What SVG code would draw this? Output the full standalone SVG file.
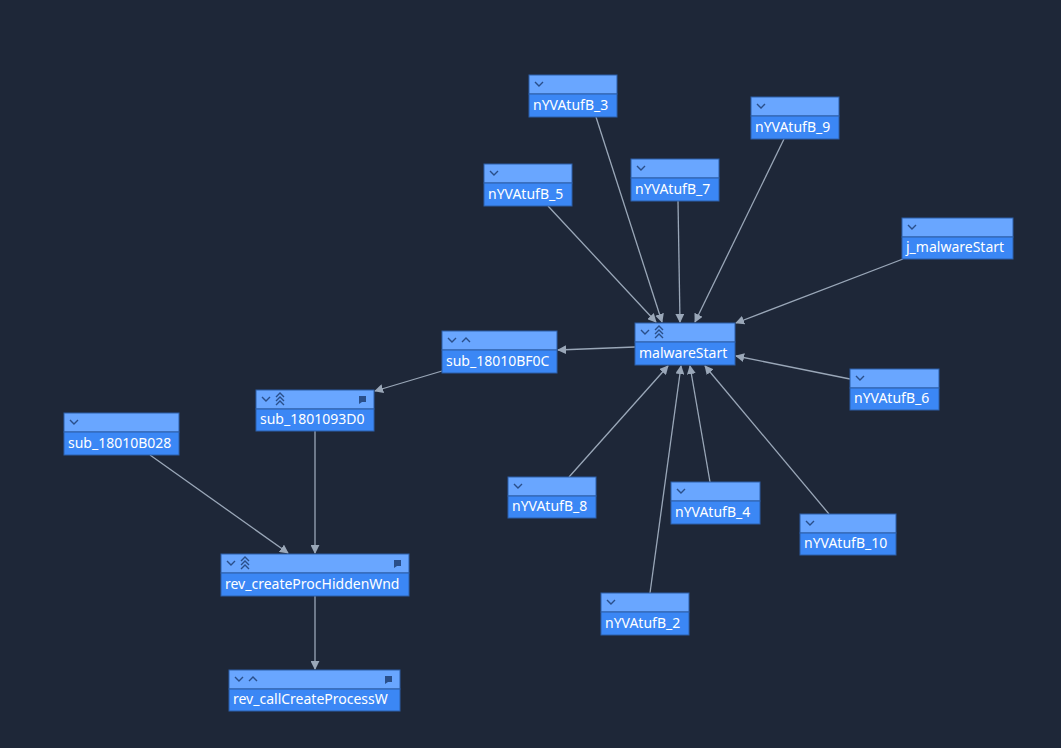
<svg xmlns="http://www.w3.org/2000/svg" width="1061" height="748" viewBox="0 0 1061 748">
<defs>
<style>
.h{fill:#69a6ff;stroke:#2d5fa8;stroke-width:1}
.b{fill:#3b87f5;stroke:#2d5fa8;stroke-width:1}
.t{font-family:"Noto Sans",sans-serif;font-size:14px;fill:#ffffff}
.i{fill:none;stroke:#2a4f8a;stroke-width:1.4}
.c{fill:#2a4f8a}
.e{stroke:#9aa7b8;stroke-width:1.3;fill:none;marker-end:url(#a)}
</style>
<marker id="a" viewBox="0 0 10 10" refX="9" refY="5" markerWidth="9" markerHeight="9" markerUnits="userSpaceOnUse" orient="auto"><path d="M0,0L10,5L0,10z" fill="#9aa7b8"/></marker>
<path id="dn" d="M0,0l4,4l4,-4" class="i"/>
<path id="up" d="M0,4l4,-4l4,4" class="i"/>
<path id="dup" d="M0,4l4,-4l4,4M0,8l4,-4l4,4M0,12l4,-4l4,4" class="i"/>
<path id="cm" d="M0,0h7v6h-4l-3,2z" class="c"/>
</defs>
<rect width="1061" height="748" fill="#1e2738"/>
<g id="edges">
<line class="e" x1="596" y1="117" x2="662" y2="322"/>
<line class="e" x1="548" y1="206" x2="656" y2="322"/>
<line class="e" x1="678" y1="201" x2="680" y2="322"/>
<line class="e" x1="784" y1="139" x2="695" y2="322"/>
<line class="e" x1="903" y1="259" x2="736" y2="323"/>
<line class="e" x1="850" y1="379" x2="736" y2="356"/>
<line class="e" x1="569" y1="477" x2="668" y2="366"/>
<line class="e" x1="710" y1="482" x2="690" y2="366"/>
<line class="e" x1="829" y1="514" x2="705" y2="366"/>
<line class="e" x1="650" y1="593" x2="681" y2="366"/>
<line class="e" x1="635" y1="347" x2="558" y2="350"/>
<line class="e" x1="442" y1="371" x2="375" y2="391"/>
<line class="e" x1="315" y1="431" x2="315" y2="553"/>
<line class="e" x1="150" y1="455" x2="288" y2="553"/>
<line class="e" x1="315" y1="596" x2="315" y2="669"/>
</g>
<g id="n3"><rect class="h" x="529" y="75" width="88" height="19"/><rect class="b" x="529" y="94" width="88" height="23"/><use href="#dn" x="535" y="82"/><text class="t" x="533" y="110">nYVAtufB_3</text></g>
<g id="n9"><rect class="h" x="751" y="97" width="88" height="19"/><rect class="b" x="751" y="116" width="88" height="23"/><use href="#dn" x="757" y="104"/><text class="t" x="755" y="132">nYVAtufB_9</text></g>
<g id="n5"><rect class="h" x="484" y="164" width="88" height="19"/><rect class="b" x="484" y="183" width="88" height="23"/><use href="#dn" x="490" y="171"/><text class="t" x="488" y="199">nYVAtufB_5</text></g>
<g id="n7"><rect class="h" x="631" y="159" width="88" height="19"/><rect class="b" x="631" y="178" width="88" height="23"/><use href="#dn" x="637" y="166"/><text class="t" x="635" y="194">nYVAtufB_7</text></g>
<g id="jm"><rect class="h" x="902" y="218" width="111" height="19"/><rect class="b" x="902" y="237" width="111" height="22"/><use href="#dn" x="908" y="225"/><text class="t" x="906" y="252">j_malwareStart</text></g>
<g id="ms"><rect class="h" x="635" y="323" width="100" height="19"/><rect class="b" x="635" y="342" width="100" height="23"/><use href="#dn" x="641" y="330"/><use href="#dup" x="655" y="326"/><text class="t" x="639" y="358">malwareStart</text></g>
<g id="bf0c"><rect class="h" x="442" y="331" width="115" height="19"/><rect class="b" x="442" y="350" width="115" height="23"/><use href="#dn" x="448" y="338"/><use href="#up" x="462" y="338"/><text class="t" x="446" y="366">sub_18010BF0C</text></g>
<g id="n6"><rect class="h" x="850" y="369" width="89" height="19"/><rect class="b" x="850" y="388" width="89" height="22"/><use href="#dn" x="856" y="376"/><text class="t" x="854" y="403">nYVAtufB_6</text></g>
<g id="s93d0"><rect class="h" x="256" y="390" width="118" height="19"/><rect class="b" x="256" y="409" width="118" height="22"/><use href="#dn" x="262" y="397"/><use href="#dup" x="276" y="393"/><use href="#cm" x="359" y="396"/><text class="t" x="260" y="424">sub_1801093D0</text></g>
<g id="b028"><rect class="h" x="64" y="413" width="115" height="19"/><rect class="b" x="64" y="432" width="115" height="23"/><use href="#dn" x="70" y="420"/><text class="t" x="68" y="448">sub_18010B028</text></g>
<g id="n8"><rect class="h" x="508" y="477" width="88" height="19"/><rect class="b" x="508" y="496" width="88" height="22"/><use href="#dn" x="514" y="484"/><text class="t" x="512" y="511">nYVAtufB_8</text></g>
<g id="n4"><rect class="h" x="671" y="482" width="89" height="19"/><rect class="b" x="671" y="501" width="89" height="23"/><use href="#dn" x="677" y="489"/><text class="t" x="675" y="517">nYVAtufB_4</text></g>
<g id="n10"><rect class="h" x="800" y="514" width="96" height="19"/><rect class="b" x="800" y="533" width="96" height="22"/><use href="#dn" x="806" y="521"/><text class="t" x="804" y="548">nYVAtufB_10</text></g>
<g id="cphw"><rect class="h" x="221" y="554" width="188" height="19"/><rect class="b" x="221" y="573" width="188" height="23"/><use href="#dn" x="227" y="561"/><use href="#dup" x="241" y="557"/><use href="#cm" x="394" y="560"/><text class="t" x="225" y="589">rev_createProcHiddenWnd</text></g>
<g id="n2"><rect class="h" x="601" y="593" width="88" height="19"/><rect class="b" x="601" y="612" width="88" height="23"/><use href="#dn" x="607" y="600"/><text class="t" x="605" y="628">nYVAtufB_2</text></g>
<g id="ccp"><rect class="h" x="229" y="670" width="171" height="19"/><rect class="b" x="229" y="689" width="171" height="22"/><use href="#dn" x="235" y="677"/><use href="#up" x="249" y="677"/><use href="#cm" x="385" y="676"/><text class="t" x="233" y="704">rev_callCreateProcessW</text></g>
</svg>
